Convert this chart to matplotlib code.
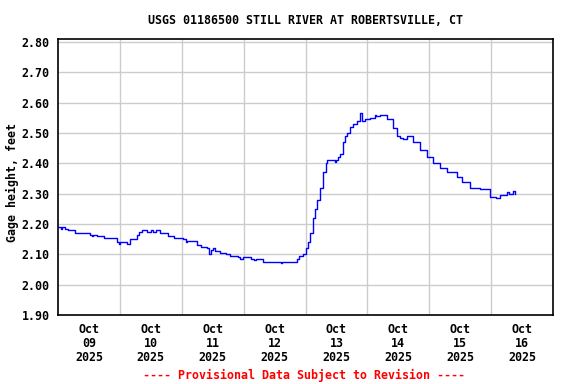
import matplotlib
matplotlib.use('Agg')
import matplotlib.pyplot as plt
import pandas as pd

# hours since 2025-10-09 00:00 and gage height (ft)
hours = [0, 1.0, 1.6, 2.7, 4.0, 6.6, 12.4, 13.0, 13.6, 15.0,
         17.8, 22.9, 23.5, 24.2, 26.8, 28.0, 30.6, 31.5, 32.5, 34.5,
         36.0, 37.0, 38.0, 39.5, 42.6, 45.0, 48.5, 49.5, 50.0, 53.9,
         55.5, 57.8, 58.6, 59.2, 60.0, 61.0, 62.8, 65.0, 66.7, 70.0,
         70.6, 71.7, 75.0, 76.0, 76.7, 79.5, 86.0, 86.5, 87.0, 92.7,
         93.5, 95.0, 96.0, 96.9, 97.9, 98.9, 99.6, 100.4, 101.6, 102.7,
         103.9, 104.5, 107.4, 108.0, 108.6, 109.3, 110.5, 111.3, 112.2, 113.2,
         114.4, 115.9, 117.1, 118.0, 119.0, 121.0, 122.9, 123.5, 124.8, 127.6,
         129.9, 131.4, 132.5, 133.8, 135.3, 137.6, 140.4, 143.1, 145.4, 148.1,
         150.8, 154.7, 156.6, 159.7, 163.6, 167.5, 169.8, 171.4, 174.1, 175.0,
         176.4, 177.2]
gage = [2.19, 2.185, 2.19, 2.183, 2.18, 2.17, 2.165, 2.16, 2.165, 2.16,
        2.155, 2.14, 2.135, 2.14, 2.135, 2.15, 2.165, 2.175, 2.18, 2.175,
        2.18, 2.175, 2.18, 2.17, 2.16, 2.155, 2.15, 2.14, 2.145, 2.13,
        2.125, 2.12, 2.10, 2.115, 2.12, 2.11, 2.105, 2.10, 2.095, 2.09,
        2.085, 2.09, 2.085, 2.08, 2.085, 2.075, 2.075, 2.07, 2.075, 2.085,
        2.095, 2.10, 2.12, 2.14, 2.17, 2.22, 2.25, 2.28, 2.32, 2.37,
        2.40, 2.41, 2.405, 2.41, 2.42, 2.43, 2.47, 2.49, 2.50, 2.52,
        2.53, 2.54, 2.565, 2.54, 2.545, 2.55, 2.56, 2.555, 2.56, 2.545,
        2.515, 2.49, 2.485, 2.48, 2.49, 2.47, 2.445, 2.42, 2.40, 2.385,
        2.37, 2.355, 2.34, 2.32, 2.315, 2.29, 2.285, 2.295, 2.305, 2.30,
        2.31, 2.30]

title = 'USGS 01186500 STILL RIVER AT ROBERTSVILLE, CT'
ylabel = 'Gage height, feet'
yticks = [1.90, 2.00, 2.10, 2.20, 2.30, 2.40, 2.50, 2.60, 2.70, 2.80]
days = pd.date_range('2025-10-09', '2025-10-16', freq='D')
footer = '---- Provisional Data Subject to Revision ----'

start = days[0]
times = [start + pd.Timedelta(hours=h) for h in hours]

plt.rcParams['font.family'] = 'DejaVu Sans Mono'
plt.rcParams['font.weight'] = 'bold'
fs = 8.4

fig = plt.figure(figsize=(5.76, 3.84), dpi=100)
ax = fig.add_axes([58/576, 1 - 315/384, 495/576, 276/384])

ax.plot(times, gage, color='#0000ff', linewidth=1.0, drawstyle='steps-post')

# day labels sit at noon, grid lines at midnight
noons = [d + pd.Timedelta(hours=12) for d in days]
ax.set_xticks(noons)
ax.set_xticklabels([d.strftime('%b\n%d\n%Y') for d in days], fontsize=fs,
                   fontweight='bold', linespacing=1.1)
ax.set_xticks(list(days[1:]), minor=True)
ax.set_xlim(days[0], days[-1] + pd.Timedelta(days=1))
ax.set_ylim(1.90, 2.81)
ax.set_yticks(yticks)
ax.set_yticklabels([f'{v:.2f}' for v in yticks], fontsize=fs, fontweight='bold')
ax.tick_params(which='both', length=0, pad=6)
ax.grid(False, axis='x', which='major')
ax.grid(True, axis='x', which='minor', color='#cccccc', linewidth=1)
ax.grid(True, axis='y', which='major', color='#cccccc', linewidth=1)
ax.set_axisbelow(True)
for s in ax.spines.values():
    s.set_linewidth(1.2)

fig.text(12/576, 1 - 183/384, ylabel, rotation=90, ha='center', va='center',
         fontsize=fs, fontweight='bold')
fig.text(305/576, 1 - 20/384, title, ha='center', va='center', fontsize=fs, fontweight='bold')
fig.text(304/576, 1 - 375/384, footer, ha='center', va='center', fontsize=fs,
         fontweight='bold', color='red')

fig.savefig('out.png', dpi=100)
